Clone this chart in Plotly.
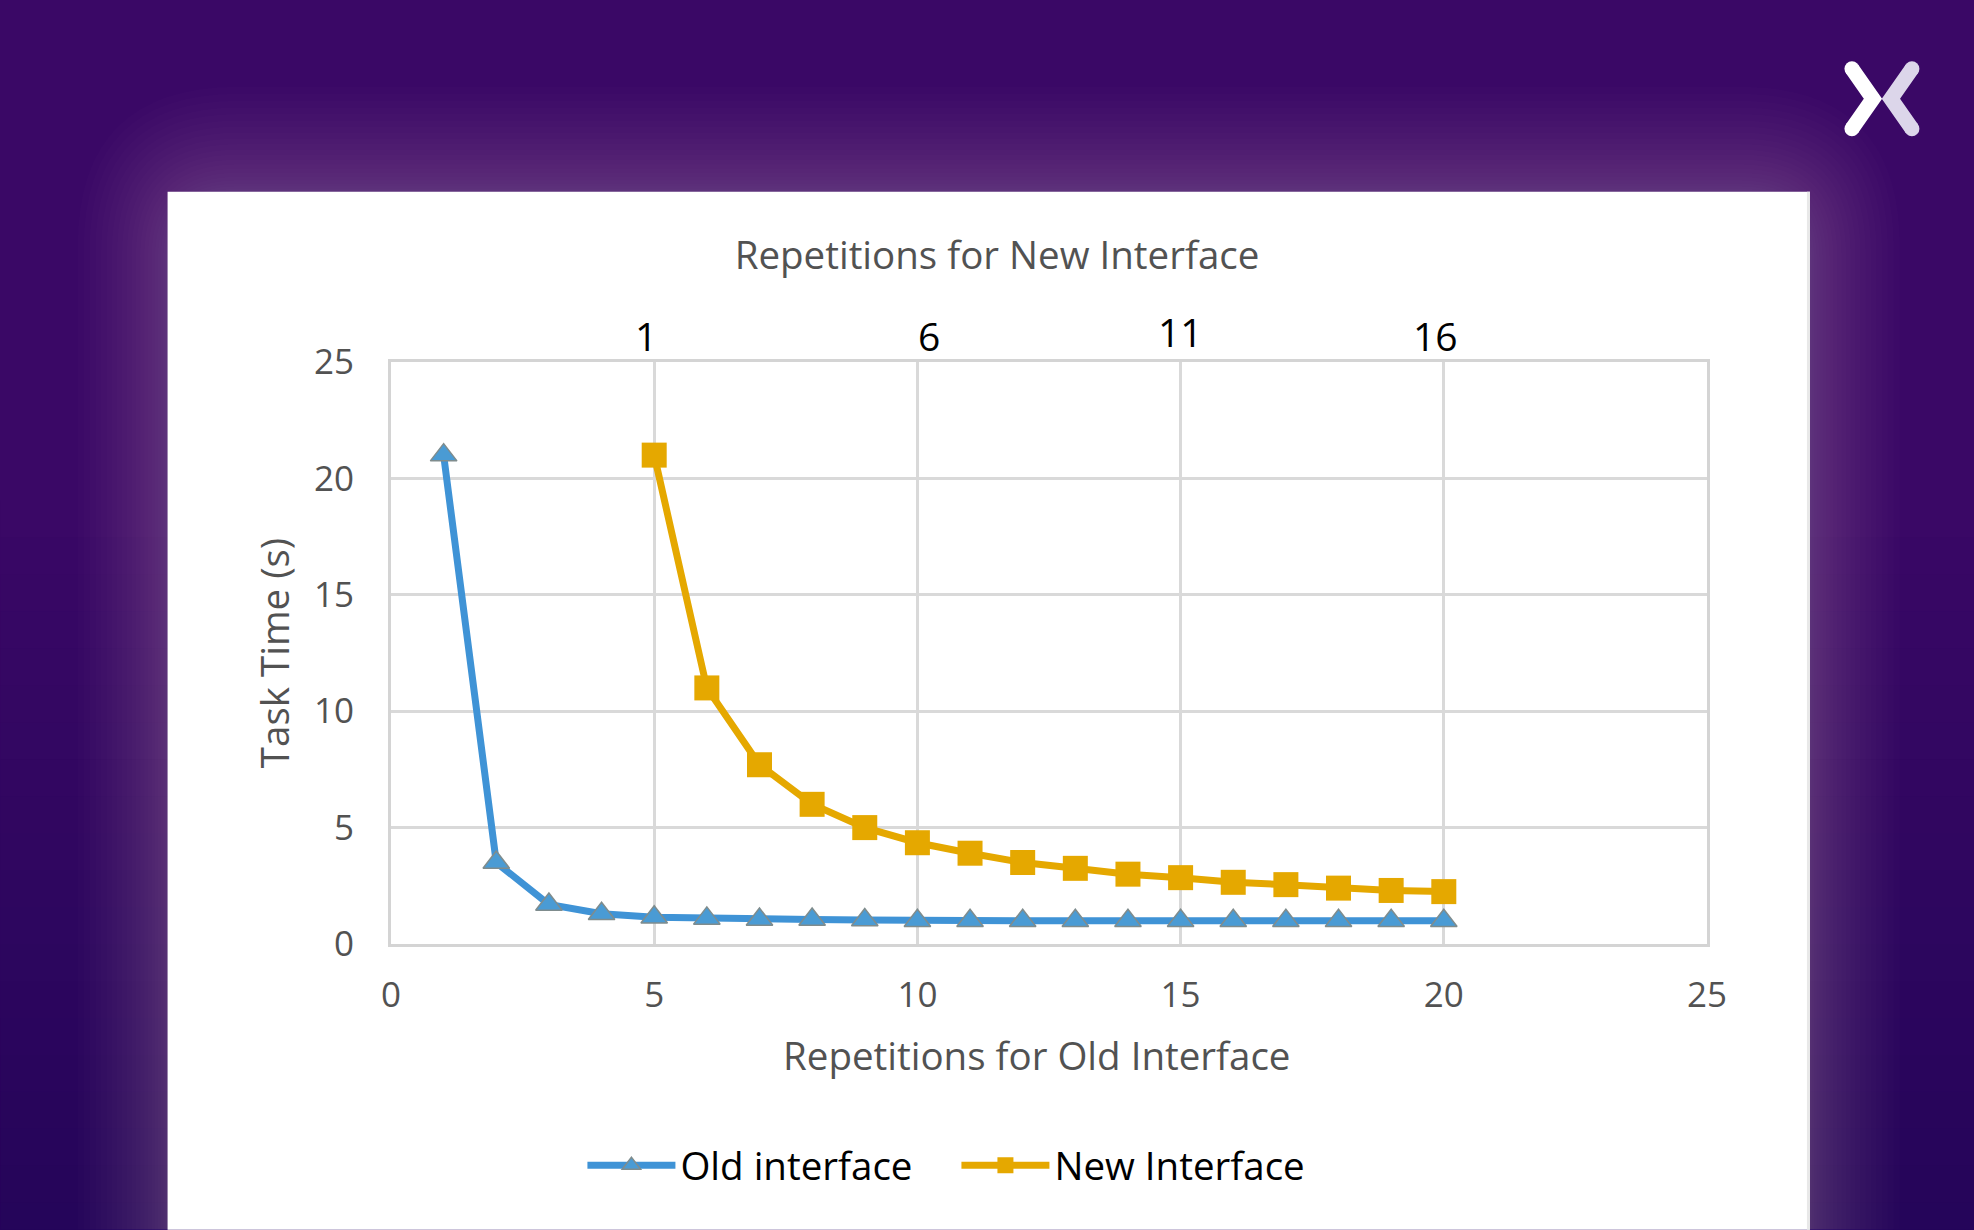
import plotly.graph_objects as go

W, H = 1974, 1230
PL, PR, PT, PB = 390.5, 1707, 361.5, 944

# Data
old_reps = list(range(1, 21))
old_time = [21, 3.5, 1.7, 1.3, 1.15, 1.1, 1.05, 1.05, 1.03, 1, 1, 1, 1, 1, 1, 1, 1, 1, 1, 1]
new_reps = list(range(5, 21))
new_time = [21, 11, 7.7, 6, 5, 4.35, 3.9, 3.5, 3.25, 3, 2.85, 2.65, 2.55, 2.4, 2.3, 2.25]
axis_ticks = [0, 5, 10, 15, 20, 25]
top_x = [5, 10, 15, 20]
top_labels = ['1', '6', '11', '16']
top_shift = [-8, 12, 0, -8]
top_rise = [-2, -2, 2, -2]

FONT = 'Open Sans'
GREY = '#525252'


# paper coords are relative to the plot area, so convert from page pixels
def px_x(v):
    return (v - PL) / (PR - PL)


def px_y(v):
    return (PB - v) / (PB - PT)


def rect(x0, y0, x1, y1, color, opacity=1.0):
    return dict(type='rect', xref='paper', yref='paper', layer='below',
                x0=px_x(x0), x1=px_x(x1), y0=px_y(y0), y1=px_y(y1),
                fillcolor=color, opacity=opacity, line_width=0)


def rounded(x0, y0, x1, y1, r, color, opacity):
    # rounded rectangle, so the glow fades at the panel corners
    pts = (f'M {px_x(x0 + r)} {px_y(y0)} L {px_x(x1 - r)} {px_y(y0)} '
           f'Q {px_x(x1)} {px_y(y0)} {px_x(x1)} {px_y(y0 + r)} '
           f'L {px_x(x1)} {px_y(y1)} L {px_x(x0)} {px_y(y1)} L {px_x(x0)} {px_y(y0 + r)} '
           f'Q {px_x(x0)} {px_y(y0)} {px_x(x0 + r)} {px_y(y0)} Z')
    return dict(type='path', xref='paper', yref='paper', layer='below', path=pts,
                fillcolor=color, opacity=opacity, line_width=0)


shapes = []

# background darkens towards the bottom
for i in range(20):
    t = i / 19
    c = f'rgb({int(58 - 21 * t)},{int(8 - 3 * t)},{int(102 - 12 * t)})'
    shapes.append(rect(0, 500 + i * 37, W, H, c))

# glow around the white panel, layers packed tighter near the edge
steps = 22
for i in range(steps):
    f = (1 - i / steps) ** 1.5
    shapes.append(rounded(167 - 90 * f, 191 - 105 * f, 1810 + 90 * f, H, 70 + 90 * f, 'white', 0.0105))

shapes.append(rect(167, 191, 1810, H, 'white'))
shapes.append(rect(1807, 191, 1810, H, '#e8e8e8'))

# chevron logo
for path, col in [((1852, 68, 1873, 98, 1852, 128), '#ffffff'),
                  ((1912, 68, 1891, 98, 1912, 128), '#dcd6ea')]:
    ax, ay, bx, by, cx, cy = path
    shapes.append(dict(type='path', xref='paper', yref='paper',
                       path=f'M {px_x(ax)} {px_y(ay)} L {px_x(bx)} {px_y(by)} L {px_x(cx)} {px_y(cy)}',
                       line=dict(color=col, width=15)))
    for ex, ey in [(ax, ay), (cx, cy)]:
        shapes.append(dict(type='circle', xref='paper', yref='paper', fillcolor=col, line_width=0,
                           x0=px_x(ex - 7.5), x1=px_x(ex + 7.5), y0=px_y(ey + 7.5), y1=px_y(ey - 7.5)))

fig = go.Figure()
fig.add_trace(go.Scatter(x=old_reps, y=old_time, mode='lines+markers', name='Old interface',
                         line=dict(color='#3f93d6', width=7),
                         marker=dict(symbol='triangle-up', size=23, color='#4a9bd4',
                                     line=dict(color='#7f8c8d', width=1.5))))
fig.add_trace(go.Scatter(x=new_reps, y=new_time, mode='lines+markers', name='New Interface',
                         line=dict(color='#e5a800', width=7),
                         marker=dict(symbol='square', size=25, color='#e5a800')))

annotations = []
for x, txt, dx, up in zip(top_x, top_labels, top_shift, top_rise):
    annotations.append(dict(x=x, y=1, xref='x', yref='paper', text=txt, showarrow=False,
                            xshift=dx, yshift=up, yanchor='bottom',
                            font=dict(family=FONT, size=39, color='black')))
annotations.append(dict(x=px_x(1036), y=px_y(1055), xref='paper', yref='paper',
                        xanchor='center', yanchor='middle',
                        text='Repetitions for Old Interface', showarrow=False,
                        font=dict(family=FONT, size=38.5, color=GREY)))

fig.update_layout(
    width=W, height=H,
    paper_bgcolor='#3a0866', plot_bgcolor='rgba(0,0,0,0)',
    margin=dict(l=PL, r=W - PR, t=PT, b=H - PB, autoexpand=False),
    shapes=shapes, annotations=annotations,
    title=dict(text='Repetitions for New Interface', x=997 / W, y=1 - 256 / H, xanchor='center', yanchor='middle',
               font=dict(family=FONT, size=38.5, color=GREY)),
    font=dict(family=FONT, size=35, color=GREY),
    showlegend=True,
    legend=dict(orientation='h', x=px_x(582), y=px_y(1166), xanchor='left', yanchor='middle',
                itemwidth=88, entrywidth=271, font=dict(family=FONT, size=38.5, color='black'),
                bgcolor='rgba(0,0,0,0)'),
)
fig.update_xaxes(range=[0, 25], tickvals=axis_ticks, showgrid=True, gridcolor='#d9d9d9', gridwidth=3,
                 zeroline=False, showline=True, linecolor='#d4d4d4', linewidth=3, mirror=True,
                 ticks='', ticklabelstandoff=18, tickfont=dict(family=FONT, size=35, color=GREY))
fig.update_yaxes(range=[0, 25], tickvals=axis_ticks, showgrid=True, gridcolor='#d9d9d9', gridwidth=3,
                 zeroline=False, showline=True, linecolor='#d4d4d4', linewidth=3, mirror=True,
                 ticks='', ticklabelstandoff=27, tickfont=dict(family=FONT, size=35, color=GREY),
                 title=dict(text='Task Time (s)', standoff=13,
                            font=dict(family=FONT, size=38.5, color=GREY)))

fig.write_html('out.html', config=dict(displayModeBar=False),
               post_script="document.body.style.margin='0';document.body.style.overflow='hidden';")
